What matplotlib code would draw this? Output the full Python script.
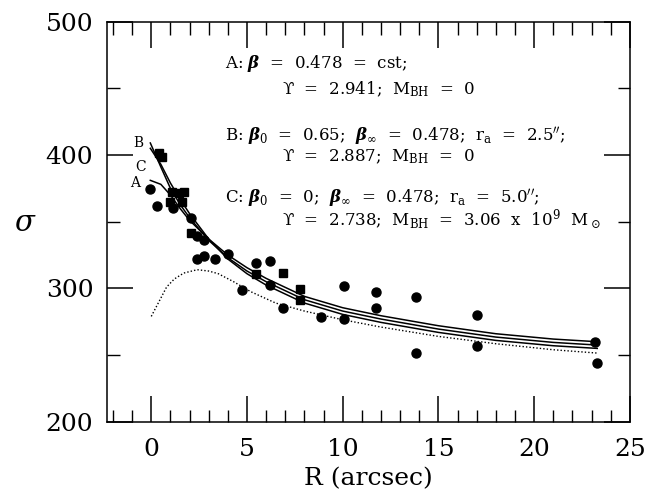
import matplotlib
matplotlib.use("Agg")
import matplotlib.pyplot as plt
from matplotlib.ticker import MultipleLocator

plt.rcParams['font.family'] = ['DejaVu Serif']
plt.rcParams['mathtext.fontset'] = 'dejavuserif'

# observed dispersion points (filled circles / filled squares)
circ_r = [-0.08, 0.30, 1.15, 2.06, 2.39, 2.74, 2.40, 2.74, 3.34, 4.02, 5.45, 6.18,
          6.18, 4.75, 10.07, 6.90, 8.86, 10.08, 11.73, 11.73, 13.82, 13.82,
          17.0, 17.0, 23.2, 23.3]
circ_s = [374.5, 361.8, 360.3, 352.4, 339.3, 336.0, 322.0, 324.3, 321.8, 325.6, 319.4, 320.7,
          302.2, 298.8, 301.8, 285.0, 278.3, 276.8, 297.5, 285.5, 293.8, 251.3,
          280.0, 256.8, 260.0, 244.3]
sq_r = [0.39, 0.57, 1.08, 1.46, 1.72, 1.60, 0.99, 2.09, 5.48, 6.89, 7.78, 7.75]
sq_s = [401.5, 398.2, 372.3, 371.8, 371.9, 364.8, 365.0, 341.5, 310.8, 311.8, 299.3, 291.3]

# model curves
mod_r = [-0.05, 0.5, 1, 1.5, 2, 3, 4, 5, 6, 8, 10, 12, 15, 18, 21, 23.3]
mod_A = [381, 378, 370, 360, 351, 337, 325, 315.5, 307.5, 294, 285.5, 279.5, 272, 266, 262, 260]
mod_B = [409, 391, 375, 363, 353, 336, 323, 313, 305, 291.5, 283, 277, 269.5, 263.5, 259.5, 257.5]
mod_C = [405, 393, 379, 367, 356, 337, 322, 311, 302.5, 289, 280.5, 274.5, 267, 261, 257, 255]

# dotted curve
dot_r = [0, 0.4, 0.8, 1.2, 1.7, 2.4, 3.0, 3.5, 4.3, 5.2, 6.5, 8, 10, 12, 15, 18, 21, 23.3]
dot_s = [279, 290, 301, 307, 311.5, 314, 313, 311, 305, 297.5, 289, 283, 276.5, 271, 264, 258.5, 254, 251.5]

fig = plt.figure(figsize=(6.54, 4.91), dpi=100)
ax = fig.add_axes([0.164, 0.141, 0.799, 0.815])

for s in (mod_A, mod_B, mod_C):
    ax.plot(mod_r, s, color='black', lw=1.1)
ax.plot(dot_r, dot_s, color='black', lw=1.0, ls=(0, (1, 1.5)))

ax.plot(circ_r, circ_s, 'o', color='black', ms=6.5)
ax.plot(sq_r, sq_s, 's', color='black', ms=6)

# curve labels
ax.text(-0.66, 409.3, 'B', fontsize=10, ha='center', va='center')
ax.text(-0.57, 391, 'C', fontsize=10, ha='center', va='center')
ax.text(-0.84, 378.8, 'A', fontsize=10, ha='center', va='center')

fs = 12
bb = r'\boldsymbol{\beta}'
ups = '\u03d2'
# (left x px, baseline y px, text)
lines = [
    (225, 68, r'A: $%s$  =  0.478  =  cst;' % bb),
    (282, 94, ups + r'  =  2.941;  M$_{\rm BH}$  =  0'),
    (225, 141, r'B: $%s_0$  =  0.65;  $%s_\infty$  =  0.478;  r$_{\rm a}$  =  2.5$^{\prime\prime}$;' % (bb, bb)),
    (282, 161, ups + r'  =  2.887;  M$_{\rm BH}$  =  0'),
    (225, 203, r'C: $%s_0$  =  0;  $%s_\infty$  =  0.478;  r$_{\rm a}$  =  5.0$^{\prime\prime}$;' % (bb, bb)),
    (282, 226, ups + r'  =  2.738;  M$_{\rm BH}$  =  3.06  x  10$^9$  M$_\odot$'),
]
for x, y, t in lines:
    fig.text(x / 654, 1 - y / 491, t, fontsize=fs, ha='left', va='baseline')

ax.set_xlim(-2.3, 25)
ax.set_ylim(200, 500)
ax.xaxis.set_major_locator(MultipleLocator(5))
ax.xaxis.set_minor_locator(MultipleLocator(1))
ax.yaxis.set_major_locator(MultipleLocator(100))
ax.yaxis.set_minor_locator(MultipleLocator(50))
ax.tick_params(which='both', direction='in', top=True, right=True, labelsize=18)
ax.tick_params(which='major', length=18.5, width=1.1)
ax.tick_params(which='minor', length=9, width=1.0)
ax.tick_params(axis='x', pad=12)
ax.tick_params(axis='y', pad=10)
for sp in ax.spines.values():
    sp.set_linewidth(1.1)

ax.set_xlabel('R (arcsec)', fontsize=18, labelpad=4)
fig.text(25 / 654, 1 - 222.7 / 491, r'$\sigma$', fontsize=21, ha='center', va='center')

fig.savefig('out.png', dpi=100)
